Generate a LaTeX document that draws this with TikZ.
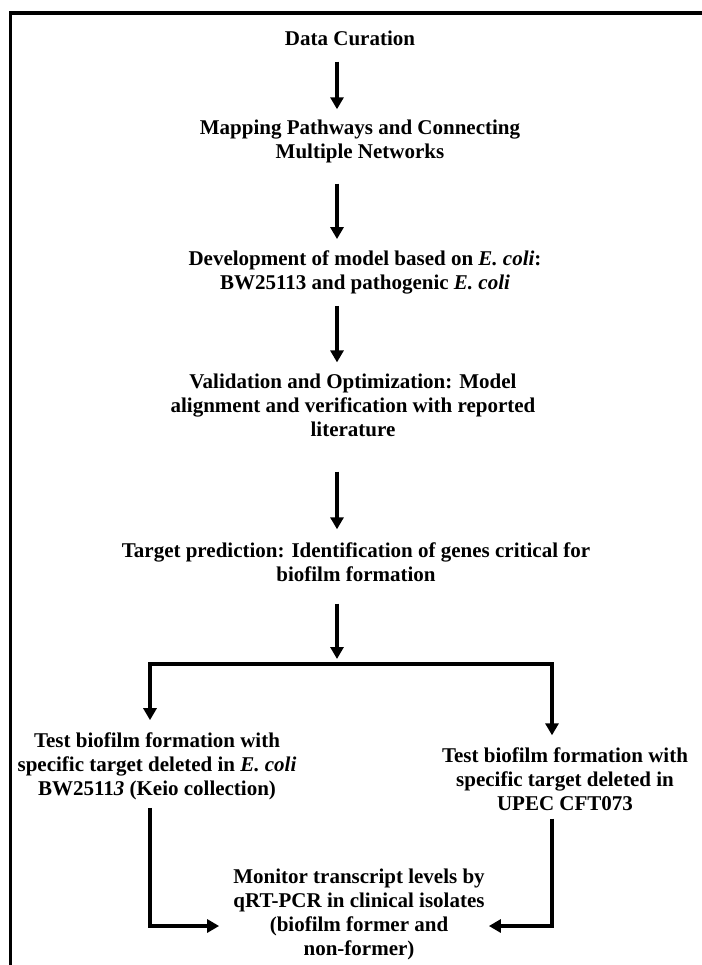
\documentclass[tikz,border=0pt]{standalone}
\usepackage{fontspec}
\setmainfont{Liberation Serif}
\usetikzlibrary{arrows.meta}

\begin{document}
\begin{tikzpicture}[x=1pt, y=-1pt,
    stage/.style={align=center, inner sep=0pt, font=\bfseries\fontsize{21}{24}\selectfont},
    flow/.style={line width=3.3pt, -{Triangle[width=13pt,length=12pt]}},
    link/.style={line width=3.3pt}]
    \useasboundingbox (0,0) rectangle (701,965);

    % Draw the outer frame
    \draw[line width=3.2pt] (10.5,975) -- (10.5,13) -- (710,13);

    % Main pipeline
    \node[stage] (curation) at (350,38) {Data Curation};
    \node[stage] (mapping) at (360,141) {Mapping Pathways and Connecting\\Multiple Networks};
    \node[stage] (model) at (365,272) {Development of model based on \textit{E. coli}:\\BW25113 and pathogenic \textit{E. coli}};
    \node[stage] (validation) at (353,405) {Validation and Optimization: Model\\alignment and verification with reported\\literature};
    \node[stage] (target) at (356,562) {Target prediction: Identification of genes critical for\\biofilm formation};

    % Experimental branches
    \node[stage] (testecoli) at (157,766) {Test biofilm formation with\\specific target deleted in \textit{E. coli}\\BW2511\textit{3} (Keio collection)};
    \node[stage] (testupec) at (565,779) {Test biofilm formation with\\specific target deleted in\\UPEC CFT073};
    \node[stage] (monitor) at (359,914) {Monitor transcript levels by\\qRT-PCR in clinical isolates\\(biofilm former and\\non-former)};

    % Arrow column and fork
    \coordinate (axis) at (337,0);
    \coordinate (fork) at (337,664);
    \coordinate (forkL) at (150,664);
    \coordinate (forkR) at (552,664);

    % Vertical arrows
    \draw[flow, shorten <=16pt, shorten >=10pt] (curation.south -| axis) -- (mapping.north -| axis);
    \draw[flow, shorten <=21pt, shorten >=11pt] (mapping.south -| axis) -- (model.north -| axis);
    \draw[flow, shorten <=12pt, shorten >=11pt] (model.south -| axis) -- (validation.north -| axis);
    \draw[flow, shorten <=35pt, shorten >=13pt] (validation.south -| axis) -- (target.north -| axis);
    \draw[flow, shorten <=22pt, shorten >=5pt] (target.south -| axis) -- (fork);

    % Split into the two strains
    \draw[link] ([xshift=-1.65pt]forkL) -- ([xshift=1.65pt]forkR);
    \draw[flow, shorten >=12pt] (forkL) -- (forkL |- testecoli.north);
    \draw[flow, shorten >=12pt] (forkR) -- (forkR |- testupec.north);

    % Join into transcript monitoring
    \draw[flow, shorten <=8pt, shorten >=14pt] (testecoli.south -| forkL) |- ([yshift=-12pt]monitor.west);
    \draw[flow, shorten <=8pt, shorten >=4pt] (testupec.south -| forkR) |- ([yshift=-12pt]monitor.east);
\end{tikzpicture}
\end{document}
